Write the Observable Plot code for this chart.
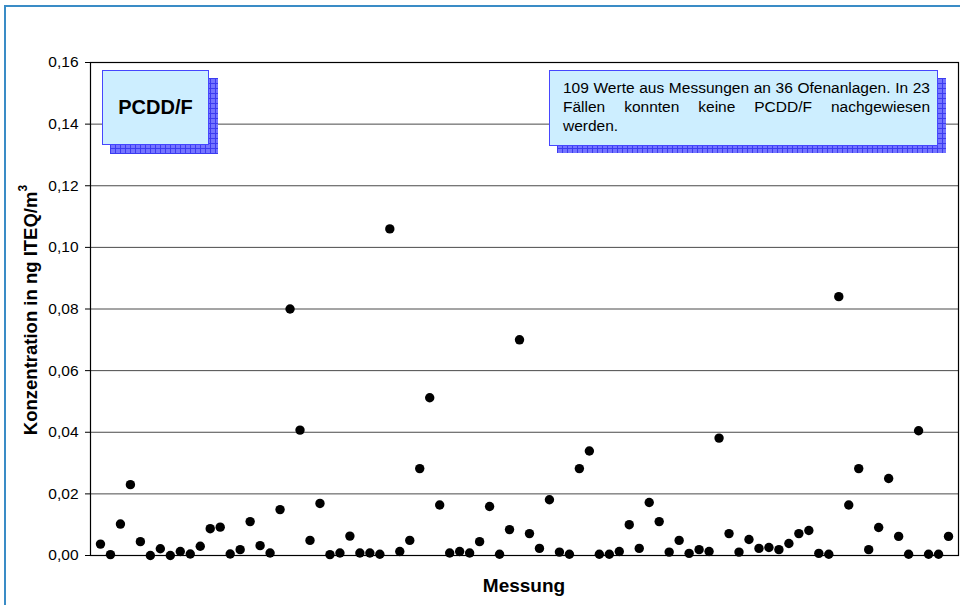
<!DOCTYPE html>
<html>
<head>
<meta charset="utf-8">
<script src="https://cdn.jsdelivr.net/npm/d3@7"></script>
<script src="https://cdn.jsdelivr.net/npm/@observablehq/plot@0.6"></script>
<style>
  html, body { margin: 0; padding: 0; background: #fff; }
  #wrap { position: relative; width: 960px; height: 605px; overflow: hidden; font-family: "Liberation Sans", Arial, sans-serif; }
  #frame { position: absolute; left: 4px; top: 5px; width: 1000px; height: 700px; border-top: 2px solid #3a8cc6; border-left: 2px solid #3a8cc6; box-sizing: border-box; }
  #chart { position: absolute; left: 0; top: 0; }
  .shadow { position: absolute; background-color: #7474ff;
    background-image: linear-gradient(to right, #3c3cf0 1px, transparent 1px), linear-gradient(to bottom, #3c3cf0 1px, transparent 1px);
    background-size: 5px 5px; }
  .box { position: absolute; background: #cdeeff; border: 1.5px solid #4646ff; box-sizing: border-box; color: #000; }
  #b1 { left: 102px; top: 70px; width: 107px; height: 75px; display: flex; align-items: center; justify-content: center; font-weight: bold; font-size: 20px; }
  #s1 { left: 110px; top: 78px; width: 108px; height: 76px; }
  #b2 { left: 549px; top: 70px; width: 389px; height: 76px; padding: 7px 7px 0 13px; font-size: 15.5px; line-height: 19px; text-align: justify; }
  #s2 { left: 557px; top: 78px; width: 389px; height: 75px; }
  #ylab { position: absolute; left: 30px; top: 310px; transform: translate(-50%, -50%) rotate(-90deg); white-space: nowrap; font-weight: bold; font-size: 18.5px; }
  #ylab sup { font-size: 12px; position: relative; top: -2px; }
  #xlab { position: absolute; left: 524px; top: 575px; transform: translateX(-50%); font-weight: bold; font-size: 19px; white-space: nowrap; }
</style>
</head>
<body>
<div id="wrap">
  <div id="frame"></div>
  <div id="chart"></div>
  <div class="shadow" id="s1"></div>
  <div class="box" id="b1">PCDD/F</div>
  <div class="shadow" id="s2"></div>
  <div class="box" id="b2">109 Werte aus Messungen an 36 Ofenanlagen. In 23 Fällen konnten keine PCDD/F nachgewiesen werden.</div>
  <div id="ylab">Konzentration in ng ITEQ/m<sup>3</sup></div>
  <div id="xlab">Messung</div>
</div>
<script>
// Measured concentrations (ng ITEQ/m³), in order of measurement
const values = [
  0.0037, 0.0003, 0.0102, 0.0230, 0.0045, 0.0000, 0.0022, 0.0000, 0.0013, 0.0005,
  0.0030, 0.0087, 0.0092, 0.0005, 0.0019, 0.0110, 0.0032, 0.0008, 0.0149, 0.0800,
  0.0407, 0.0049, 0.0169, 0.0003, 0.0008, 0.0063, 0.0008, 0.0008, 0.0004, 0.1060,
  0.0013, 0.0049, 0.0282, 0.0512, 0.0164, 0.0008, 0.0013, 0.0008, 0.0045, 0.0159,
  0.0004, 0.0084, 0.0700, 0.0071, 0.0023, 0.0181, 0.0011, 0.0004, 0.0282, 0.0339,
  0.0004, 0.0004, 0.0013, 0.0100, 0.0023, 0.0172, 0.0110, 0.0011, 0.0049, 0.0007,
  0.0019, 0.0013, 0.0381, 0.0071, 0.0011, 0.0052, 0.0023, 0.0026, 0.0019, 0.0039,
  0.0071, 0.0081, 0.0007, 0.0004, 0.0840, 0.0164, 0.0282, 0.0019, 0.0091, 0.0250,
  0.0062, 0.0004, 0.0405, 0.0004, 0.0004, 0.0062
];
const yTicks = [0, 0.02, 0.04, 0.06, 0.08, 0.10, 0.12, 0.14, 0.16];

const data = values.map((v, k) => ({i: k + 1, v}));

const chart = Plot.plot({
  width: 960,
  height: 605,
  marginTop: 62,
  marginLeft: 90,
  marginRight: 2,
  marginBottom: 50,
  style: {fontFamily: "'Liberation Sans', Arial, sans-serif", background: "transparent", overflow: "visible"},
  x: {domain: [0, values.length + 1], axis: null},
  y: {domain: [0, 0.16]},
  marks: [
    Plot.ruleY(yTicks, {stroke: "#4a4a4a", strokeWidth: 1}),
    Plot.frame({stroke: "#000", strokeWidth: 1.2}),
    Plot.axisY({ticks: yTicks, tickSize: 5, tickPadding: 7, fontSize: 15.5, label: null,
      tickFormat: d => d.toFixed(2).replace(".", ","), stroke: "#000", color: "#000"}),
    Plot.dot(data, {x: "i", y: "v", r: 4.7, fill: "#000", stroke: "none"})
  ]
});
document.getElementById("chart").appendChild(chart);
</script>
</body>
</html>
